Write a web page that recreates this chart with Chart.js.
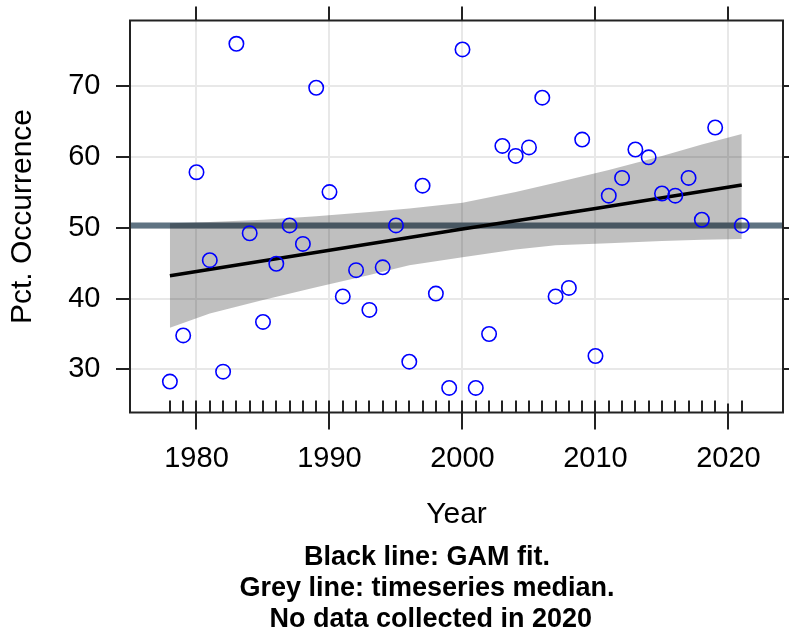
<!DOCTYPE html>
<html>
<head>
<meta charset="utf-8">
<title>Pct. Occurrence by Year</title>
<script src="https://cdn.jsdelivr.net/npm/chart.js@4.4.0/dist/chart.umd.min.js"></script>
<style>
    html, body { margin: 0; padding: 0; background: #fff; }
    #wrap { position: relative; width: 789px; height: 634px; }
    #gamChart { display: block; }
    #caption {
        position: absolute; left: 177px; top: 541px; width: 500px;
        text-align: center; white-space: pre; color: #000;
        font: bold 27px 'Liberation Sans', Arial, sans-serif; line-height: 31px;
    }
</style>
</head>
<body>
<div id="wrap">
    <canvas id="gamChart" width="789" height="634"></canvas>
    <div id="caption">Black line: GAM fit.
Grey line: timeseries median.
 No data collected in 2020</div>
</div>
<script>
// Yearly values (no data for 2020)
const years = [1978, 1979, 1980, 1981, 1982, 1983, 1984, 1985, 1986, 1987,
               1988, 1989, 1990, 1991, 1992, 1993, 1994, 1995, 1996, 1997,
               1998, 1999, 2000, 2001, 2002, 2003, 2004, 2005, 2006, 2007,
               2008, 2009, 2010, 2011, 2012, 2013, 2014, 2015, 2016, 2017,
               2018, 2019, 2021];
const pctOccurrence = [28.3, 34.8, 57.8, 45.4, 29.7, 75.9, 49.2, 36.7, 44.9, 50.3,
                       47.7, 69.7, 55.0, 40.3, 44.0, 38.4, 44.4, 50.3, 31.1, 55.9,
                       40.7, 27.4, 75.1, 27.4, 35.0, 61.5, 60.1, 61.3, 68.3, 40.3,
                       41.5, 62.4, 31.9, 54.5, 57.0, 61.0, 59.9, 54.8, 54.5, 57.0,
                       51.1, 64.1, 50.3];
const medianPct = 50.3;

const fitYears = [1978, 1990, 2000, 2010, 2021];
const fitValues = [43.2, 46.8, 49.8, 52.7, 56.0];
const bandYears = [1978, 1981, 1985, 1989, 1993, 1996, 2000, 2004, 2007, 2011, 2015, 2018, 2021];
const bandUpper = [50.6, 50.8, 51.1, 51.6, 52.2, 52.7, 53.5, 55.0, 56.3, 58.1, 60.1, 61.7, 63.2];
const bandLower = [35.9, 37.9, 39.8, 41.6, 43.3, 44.7, 45.8, 46.9, 47.5, 47.8, 48.1, 48.3, 48.4];

// Axes
const xTicks = [1980, 1990, 2000, 2010, 2020];
const yTicks = [30, 40, 50, 60, 70];
const xRange = [1975.0, 2024.1];
const yRange = [23.94, 79.18];

const FONT = "'Liberation Sans', Arial, sans-serif";
Chart.defaults.font.family = FONT;
Chart.defaults.color = '#000';

const toXY = (xs, ys) => xs.map((x, i) => ({ x: x, y: ys[i] }));

// box around the panel, outer ticks and the rug of sampled years
const frameAndTicks = {
    id: 'frameAndTicks',
    afterDraw(chart) {
        const { ctx, chartArea: a, scales: { x, y } } = chart;
        ctx.save();
        ctx.strokeStyle = '#222';
        ctx.lineWidth = 2;
        ctx.beginPath();
        xTicks.forEach(v => {
            const px = Math.round(x.getPixelForValue(v));
            ctx.moveTo(px, a.top - 14); ctx.lineTo(px, a.top);
            ctx.moveTo(px, a.bottom - 9); ctx.lineTo(px, a.bottom + 17);
        });
        yTicks.forEach(v => {
            const py = Math.round(y.getPixelForValue(v));
            ctx.moveTo(a.left - 14, py); ctx.lineTo(a.left, py);
            ctx.moveTo(a.right, py); ctx.lineTo(a.right + 8, py);
        });
        years.forEach(v => {
            const px = Math.round(x.getPixelForValue(v));
            ctx.moveTo(px, a.bottom - 12); ctx.lineTo(px, a.bottom);
        });
        ctx.stroke();
        ctx.strokeRect(a.left, a.top, a.right - a.left, a.bottom - a.top);
        ctx.restore();
    }
};

const ctx = document.getElementById('gamChart').getContext('2d');
new Chart(ctx, {
    type: 'scatter',
    data: {
        datasets: [
            {
                label: 'Pct. Occurrence',
                data: toXY(years, pctOccurrence),
                borderColor: '#0000ff',
                backgroundColor: 'transparent',
                pointRadius: 7.2,
                pointBorderWidth: 1.6,
                order: 1
            },
            {
                type: 'line',
                label: 'GAM fit',
                data: toXY(fitYears, fitValues),
                borderColor: '#000',
                borderWidth: 3.5,
                pointRadius: 0,
                fill: false,
                order: 2
            },
            {
                type: 'line',
                label: 'Upper',
                data: toXY(bandYears, bandUpper),
                borderColor: 'transparent',
                borderWidth: 0,
                pointRadius: 0,
                backgroundColor: 'rgba(0, 0, 0, 0.25)',
                fill: 3,
                order: 3
            },
            {
                type: 'line',
                label: 'Lower',
                data: toXY(bandYears, bandLower),
                borderColor: 'transparent',
                borderWidth: 0,
                pointRadius: 0,
                fill: false,
                order: 4
            },
            {
                type: 'line',
                label: 'Median',
                data: toXY(xRange, [medianPct, medianPct]),
                borderColor: '#5f7382',
                borderWidth: 6,
                pointRadius: 0,
                fill: false,
                order: 5
            }
        ]
    },
    options: {
        responsive: false,
        animation: false,
        events: [],
        layout: { autoPadding: false, padding: { top: 20.5, right: 6, bottom: 0, left: 0 } },
        plugins: {
            legend: { display: false },
            tooltip: { enabled: false }
        },
        scales: {
            x: {
                type: 'linear',
                min: xRange[0],
                max: xRange[1],
                afterBuildTicks: s => { s.ticks = xTicks.map(v => ({ value: v })); },
                afterFit: s => { s.height = 221.5; },
                // invisible tick marks only push the labels away from the panel
                grid: { color: '#e8e8e8', lineWidth: 2, drawTicks: true, tickLength: 29.4, tickColor: 'transparent' },
                border: { display: false },
                ticks: { font: { size: 29 }, padding: 0, maxRotation: 0, autoSkip: false, callback: v => String(v) },
                title: { display: true, text: 'Year', font: { size: 30 }, padding: { top: 0, bottom: 101 } }
            },
            y: {
                min: yRange[0],
                max: yRange[1],
                afterBuildTicks: s => { s.ticks = yTicks.map(v => ({ value: v })); },
                afterFit: s => { s.width = 130; },
                grid: { color: '#e8e8e8', lineWidth: 2, drawTicks: true, tickLength: 29.5, tickColor: 'transparent' },
                border: { display: false },
                ticks: { font: { size: 29 }, padding: 0, callback: v => String(v) },
                title: { display: true, text: 'Pct. Occurrence', font: { size: 30 }, padding: { top: 5, bottom: 0 } }
            }
        }
    },
    plugins: [frameAndTicks]
});
</script>
</body>
</html>
